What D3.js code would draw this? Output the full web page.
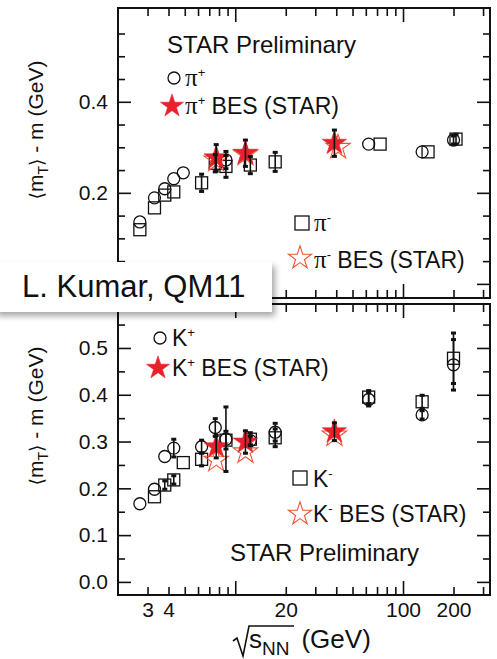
<!DOCTYPE html>
<html><head><meta charset="utf-8">
<script src="https://cdn.jsdelivr.net/npm/d3@7"></script>
<style>
body{margin:0;background:#fff}
svg{display:block}
text{font-family:"Liberation Sans",Arial,Helvetica,sans-serif;fill:#111}
</style>
</head><body>
<svg id="c" width="497" height="659"></svg>
<script>
// ---------- data ----------
// pions
const piPlusE   = [2.7, 3.3, 3.8, 4.3, 4.9, 8.8, 62.4, 130, 200];
const piPlusV   = [0.136, 0.189, 0.209, 0.231, 0.244, 0.272, 0.307, 0.290, 0.316];
const piPlusErr = [0, 0, 0, 0, 0, 0.02, 0, 0, 0.01];
const piMinusE   = [2.7, 3.3, 3.8, 4.3, 6.3, 7.6, 8.8, 12.3, 17.3, 73, 141, 207];
const piMinusV   = [0.119, 0.167, 0.195, 0.202, 0.222, 0.265, 0.258, 0.261, 0.268, 0.307, 0.290, 0.318];
const piMinusErr = [0, 0, 0, 0, 0.02, 0.02, 0.025, 0.02, 0.022, 0, 0, 0.012];
const piBesPlusE   = [7.7, 11.5, 39];
const piBesPlusV   = [0.277, 0.287, 0.309];
const piBesPlusErr = [0.03, 0.03, 0.03];
const piBesMinusE  = [7.7, 11.5, 41];
const piBesMinusV  = [0.272, 0.285, 0.300];
// kaons
const kPlusE   = [2.7, 3.3, 3.8, 4.3, 6.3, 7.6, 8.8, 12.3, 17.3, 62.4, 130, 200];
const kPlusV   = [0.167, 0.198, 0.268, 0.286, 0.289, 0.330, 0.305, 0.302, 0.320, 0.390, 0.357, 0.464];
const kPlusErr = [0, 0, 0, 0.02, 0.015, 0.02, 0.07, 0.01, 0.02, 0.015, 0.01, 0.055];
const kMinusE   = [3.3, 3.8, 4.3, 4.9, 6.3, 8.8, 12.3, 17.3, 62.4, 130, 200];
const kMinusV   = [0.182, 0.207, 0.218, 0.255, 0.262, 0.303, 0.305, 0.308, 0.395, 0.385, 0.478];
const kMinusErr = [0, 0.01, 0.01, 0, 0.015, 0.02, 0.015, 0.02, 0.015, 0.015, 0.055];
const kBesPlusE   = [7.7, 11.5, 39];
const kBesPlusV   = [0.289, 0.299, 0.321];
const kBesPlusErr = [0.025, 0.025, 0.02];
const kBesMinusE  = [7.7, 11.5, 39];
const kBesMinusV  = [0.260, 0.278, 0.314];
// axes
const xDomain = [2, 330];
const xMajor = [10, 100];
const xMinor = [3,4,5,6,7,8,9,20,30,40,50,60,70,80,90,200,300];
const xLabels = [3, 4, 20, 100, 200];
const topYDomain = [-0.031, 0.606];
const topYMajor = [0, 0.2, 0.4];
const topYLabels = [0.2, 0.4];
const topYMinor = [0.05,0.1,0.15,0.25,0.3,0.35,0.45,0.5,0.55];
const botYDomain = [-0.028, 0.594];
const botYMajor = [0, 0.1, 0.2, 0.3, 0.4, 0.5];
const botYLabels = [0, 0.1, 0.2, 0.3, 0.4, 0.5];
const botYMinor = [0.05,0.15,0.25,0.35,0.45,0.55];

// ---------- drawing ----------
const svg = d3.select("#c");
const defs = svg.append("defs");
const flt = defs.append("filter").attr("id","sh").attr("x","-10%").attr("y","-30%").attr("width","130%").attr("height","180%");
flt.append("feDropShadow").attr("dx",3).attr("dy",4).attr("stdDeviation",3).attr("flood-color","#000").attr("flood-opacity",0.35);

const L = 118, R = 490;
const x = d3.scaleLog().domain(xDomain).range([L, R]);
const RED = "#e8212b", ORANGE = "#ee5535";
const starSym = d3.symbol(d3.symbolStar).size(185);
const starSymL = d3.symbol(d3.symbolStar).size(165);

function styleAxis(g, fs){
  g.select(".domain").remove();
  g.selectAll("line").attr("stroke","#111").attr("stroke-width",1.6);
  g.selectAll("text").attr("font-size",fs||21).attr("fill","#111")
   .attr("font-family","'Liberation Sans',Arial,sans-serif");
}

function panel(cfg){
  const y = d3.scaleLinear().domain(cfg.yDomain).range([cfg.bottom, cfg.top]);
  const g = svg.append("g");
  const mk = (fn, scale, vals, size) => fn(scale).tickValues(vals).tickSize(size).tickSizeOuter(0).tickFormat(()=>"");
  // x bottom
  g.append("g").attr("transform",`translate(0,${cfg.bottom})`).call(mk(d3.axisBottom,x,xMajor,-14)).call(styleAxis);
  g.append("g").attr("transform",`translate(0,${cfg.bottom})`).call(mk(d3.axisBottom,x,xMinor,-8)).call(styleAxis);
  if (cfg.xLabels){
    g.append("g").attr("transform",`translate(0,${cfg.bottom})`)
      .call(d3.axisBottom(x).tickValues(xLabels).tickSize(0).tickPadding(7).tickFormat(d3.format("d"))).call(styleAxis);
  }
  // x top
  g.append("g").attr("transform",`translate(0,${cfg.top})`).call(mk(d3.axisTop,x,xMajor,-14)).call(styleAxis);
  g.append("g").attr("transform",`translate(0,${cfg.top})`).call(mk(d3.axisTop,x,xMinor,-8)).call(styleAxis);
  // y left
  g.append("g").attr("transform",`translate(${L},0)`).call(mk(d3.axisLeft,y,cfg.yMajor,-13)).call(styleAxis);
  g.append("g").attr("transform",`translate(${L},0)`).call(mk(d3.axisLeft,y,cfg.yMinor,-7)).call(styleAxis);
  g.append("g").attr("transform",`translate(${L},0)`)
    .call(d3.axisLeft(y).tickValues(cfg.yLabels).tickSize(0).tickPadding(10).tickFormat(d3.format(".1f"))).call(styleAxis);
  // y right
  g.append("g").attr("transform",`translate(${R},0)`).call(mk(d3.axisRight,y,cfg.yMajor,-13)).call(styleAxis);
  g.append("g").attr("transform",`translate(${R},0)`).call(mk(d3.axisRight,y,cfg.yMinor,-7)).call(styleAxis);
  // frame
  g.append("rect").attr("x",L).attr("y",cfg.top).attr("width",R-L).attr("height",cfg.bottom-cfg.top)
    .attr("fill","none").attr("stroke","#111").attr("stroke-width",2);

  // y title
  const yt = g.append("text").attr("transform",`translate(43,${cfg.titleY}) rotate(-90)`)
    .attr("text-anchor","middle").attr("font-size",21);
  yt.append("tspan").attr("font-family","'DejaVu Sans',sans-serif").attr("font-size",19).text("\u27E8");
  yt.append("tspan").text("m");
  yt.append("tspan").attr("font-size",14).attr("dy",5).text("T");
  yt.append("tspan").attr("dy",-5).attr("font-family","'DejaVu Sans',sans-serif").attr("font-size",19).text("\u27E9");
  yt.append("tspan").text(" - m (GeV)");

  const m = g.append("g");
  const zip = (E,V,Er) => E.map((e,i)=>({e, v:V[i], err: Er ? Er[i] : 0}));
  m.append("g").selectAll("circle").data(zip(cfg.plusE,cfg.plusV)).join("circle")
    .attr("cx",d=>x(d.e)).attr("cy",d=>y(d.v)).attr("r",6)
    .attr("fill","none").attr("stroke","#111").attr("stroke-width",1.3);
  m.append("g").selectAll("rect").data(zip(cfg.minusE,cfg.minusV)).join("rect")
    .attr("x",d=>x(d.e)-6).attr("y",d=>y(d.v)-6).attr("width",12).attr("height",12)
    .attr("fill","none").attr("stroke","#111").attr("stroke-width",1.3);
  m.append("g").selectAll("path").data(zip(cfg.besMinusE,cfg.besMinusV)).join("path")
    .attr("transform",d=>`translate(${x(d.e)},${y(d.v)})`).attr("d",starSym)
    .attr("fill","none").attr("stroke",ORANGE).attr("stroke-width",1.1);
  m.append("g").selectAll("path").data(zip(cfg.besPlusE,cfg.besPlusV)).join("path")
    .attr("transform",d=>`translate(${x(d.e)},${y(d.v)})`).attr("d",starSym)
    .attr("fill",RED).attr("stroke",RED).attr("stroke-width",0.6);
  const errs = [].concat(zip(cfg.plusE,cfg.plusV,cfg.plusErr), zip(cfg.minusE,cfg.minusV,cfg.minusErr),
                         zip(cfg.besPlusE,cfg.besPlusV,cfg.besPlusErr)).filter(d=>d.err>0);
  const eg = m.append("g").selectAll("g").data(errs).join("g");
  eg.append("line").attr("x1",d=>x(d.e)).attr("x2",d=>x(d.e))
    .attr("y1",d=>y(d.v-d.err)).attr("y2",d=>y(d.v+d.err)).attr("stroke","#111").attr("stroke-width",1.6);
  eg.append("rect").attr("x",d=>x(d.e)-2.5).attr("y",d=>y(d.v+d.err)-1).attr("width",5).attr("height",3).attr("fill","#111");
  eg.append("rect").attr("x",d=>x(d.e)-2.5).attr("y",d=>y(d.v-d.err)-2).attr("width",5).attr("height",3).attr("fill","#111");
  return {g, y};
}

const topPanel = panel({top:8, bottom:298, yDomain:topYDomain, yMajor:topYMajor, yLabels:topYLabels, yMinor:topYMinor, titleY:130,
  plusE:piPlusE, plusV:piPlusV, plusErr:piPlusErr, minusE:piMinusE, minusV:piMinusV, minusErr:piMinusErr,
  besPlusE:piBesPlusE, besPlusV:piBesPlusV, besPlusErr:piBesPlusErr, besMinusE:piBesMinusE, besMinusV:piBesMinusV, xLabels:false});
const botPanel = panel({top:304, bottom:595, yDomain:botYDomain, yMajor:botYMajor, yLabels:botYLabels, yMinor:botYMinor, titleY:416,
  plusE:kPlusE, plusV:kPlusV, plusErr:kPlusErr, minusE:kMinusE, minusV:kMinusV, minusErr:kMinusErr,
  besPlusE:kBesPlusE, besPlusV:kBesPlusV, besPlusErr:kBesPlusErr, besMinusE:kBesMinusE, besMinusV:kBesMinusV, xLabels:true});

// ---------- legends ----------
function legendText(xx, yy, sym, sign, rest, serifSym){
  const t = svg.append("text").attr("x",xx).attr("y",yy).attr("font-size",23);
  const s = t.append("tspan").text(sym);
  if (serifSym) s.attr("font-family","'Liberation Serif',serif").attr("font-size",25);
  t.append("tspan").attr("font-size",13).attr("dy",-9).text(sign);
  if (rest) t.append("tspan").attr("dy",9).text(rest);
}
function legCircle(cx,cy){ svg.append("circle").attr("cx",cx).attr("cy",cy).attr("r",6).attr("fill","none").attr("stroke","#111").attr("stroke-width",1.3); }
function legSquare(cx,cy){ svg.append("rect").attr("x",cx-7).attr("y",cy-7).attr("width",14).attr("height",14).attr("fill","none").attr("stroke","#111").attr("stroke-width",1.3); }
function legStar(cx,cy,filled){ svg.append("path").attr("transform",`translate(${cx},${cy})`).attr("d",starSymL)
   .attr("fill",filled?RED:"none").attr("stroke",filled?RED:ORANGE).attr("stroke-width",filled?0.6:1.1); }

svg.append("text").attr("x",167).attr("y",53).attr("font-size",24).text("STAR Preliminary");
legCircle(174,78); legendText(185,86,"\u03C0","+",null,true);
legStar(172,106,true); legendText(185,114,"\u03C0","+"," BES (STAR)",true);
legSquare(302,223); legendText(314,231,"\u03C0","-",null,true);
legStar(300,258,false); legendText(314,268,"\u03C0","-"," BES (STAR)",true);

legCircle(160,338); legendText(172,346,"K","+",null,false);
legStar(158,368,true); legendText(172,376,"K","+"," BES (STAR)",false);
legSquare(300,478); legendText(313,487,"K","-",null,false);
legStar(300,514,false); legendText(313,522,"K","-"," BES (STAR)",false);
svg.append("text").attr("x",230).attr("y",561).attr("font-size",24).text("STAR Preliminary");

// ---------- x title ----------
svg.append("path").attr("d","M233,641 L237,638 L243,656 L249,626 L294,626")
  .attr("fill","none").attr("stroke","#111").attr("stroke-width",1.6);
const xt = svg.append("text").attr("x",249).attr("y",648).attr("font-size",26);
xt.append("tspan").text("s");
xt.append("tspan").attr("font-size",19).attr("dy",7).text("NN");
xt.append("tspan").attr("dy",-7).attr("dx",12).text("(GeV)");

// ---------- credit box ----------
svg.append("rect").attr("x",-6).attr("y",262).attr("width",278).attr("height",50)
  .attr("fill","#fff").attr("filter","url(#sh)");
svg.append("text").attr("x",22).attr("y",297).attr("font-size",31).text("L. Kumar, QM11");
</script>
</body></html>
